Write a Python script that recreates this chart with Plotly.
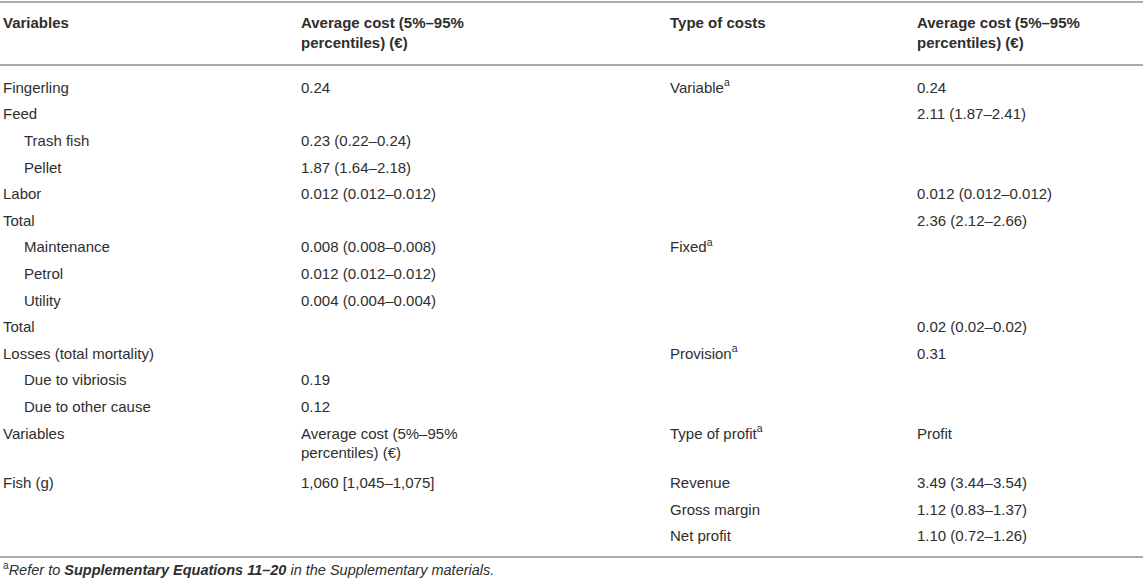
import plotly.graph_objects as go

# табличные данные (строки таблицы сверху вниз)
headers = ["<b>Variables</b>", "<b>Average cost (5%–95%<br>percentiles) (€)</b>",
           "<b>Type of costs</b>", "<b>Average cost (5%–95%<br>percentiles) (€)</b>"]

variables = ["Fingerling", "Feed", "Trash fish", "Pellet", "Labor", "Total",
             "Maintenance", "Petrol", "Utility", "Total", "Losses (total mortality)",
             "Due to vibriosis", "Due to other cause", "Variables", "Fish (g)", "", ""]
indented = [0, 0, 1, 1, 0, 0, 1, 1, 1, 0, 0, 1, 1, 0, 0, 0, 0]
avg_cost = ["0.24", "", "0.23 (0.22–0.24)", "1.87 (1.64–2.18)", "0.012 (0.012–0.012)", "",
            "0.008 (0.008–0.008)", "0.012 (0.012–0.012)", "0.004 (0.004–0.004)", "", "",
            "0.19", "0.12", "Average cost (5%–95%<br>percentiles) (€)", "1,060 [1,045–1,075]", "", ""]
cost_types = ["Variable<sup>a</sup>", "", "", "", "", "", "Fixed<sup>a</sup>", "", "", "",
              "Provision<sup>a</sup>", "", "", "Type of profit<sup>a</sup>", "Revenue",
              "Gross margin", "Net profit"]
type_cost = ["0.24", "2.11 (1.87–2.41)", "", "", "0.012 (0.012–0.012)", "2.36 (2.12–2.66)",
             "", "", "", "0.02 (0.02–0.02)", "0.31", "", "", "Profit",
             "3.49 (3.44–3.54)", "1.12 (0.83–1.37)", "1.10 (0.72–1.26)"]

footnote = ("<sup>a</sup><i>Refer to <b>Supplementary Equations 11–20</b> "
            "in the Supplementary materials.</i>")

W, H = 1143, 580
FONT = "Liberation Sans, Arial, sans-serif"
TXT = "#2e2e2e"
RULE = "#aaaaaa"
SIZE = 15

col_x = [3, 301, 670, 917]
indent_px = 21
row0, row_step = 89, 26.6
two_line_row = 13     # строка "Variables" занимает две строчки
extra_px = 23

# позиции строк в пикселях (ось y перевёрнута)
row_y = []
for i in range(len(variables)):
    y = row0 + row_step * i
    if i > two_line_row:
        y += extra_px
    row_y.append(y)

fig = go.Figure()

def add_col(x_list, y_list, texts, size=SIZE):
    # пустые ячейки не рисуем
    keep = [k for k, t in enumerate(texts) if t]
    fig.add_trace(go.Scatter(
        x=[x_list[k] for k in keep], y=[y_list[k] for k in keep],
        text=[texts[k] for k in keep], mode="text",
        textposition="middle right",
        textfont=dict(family=FONT, size=size, color=TXT),
        hoverinfo="skip", showlegend=False, cliponaxis=False,
    ))

n = len(variables)

# шапка
add_col([col_x[0], col_x[2]], [24, 24], [headers[0], headers[2]])
add_col([col_x[1], col_x[3]], [34, 34], [headers[1], headers[3]])

# тело таблицы (двухстрочная ячейка сдвинута вниз на полстроки)
add_col([col_x[0] + indent_px * indented[i] for i in range(n)], row_y, variables)
add_col([col_x[1]] * n, [row_y[i] + (10 if "<br>" in avg_cost[i] else 0) for i in range(n)], avg_cost)
add_col([col_x[2]] * n, row_y, cost_types)
add_col([col_x[3]] * n, row_y, type_cost)

# подвал
add_col([col_x[0]], [571], [footnote], size=14.5)

for y in (2, 65, 557):
    fig.add_shape(type="line", x0=0, x1=W, y0=y, y1=y, line=dict(color=RULE, width=2))

fig.update_xaxes(range=[0, W], visible=False, fixedrange=True)
fig.update_yaxes(range=[H, 0], visible=False, fixedrange=True)
fig.update_layout(
    width=W, height=H, margin=dict(l=0, r=0, t=0, b=0),
    plot_bgcolor="white", paper_bgcolor="white",
    font=dict(family=FONT, color=TXT),
)

# убираем стандартный отступ body в 8px, чтобы таблица встала в угол окна
fig.write_html("out.html", config={"displayModeBar": False},
               post_script="document.body.style.margin='0';")
